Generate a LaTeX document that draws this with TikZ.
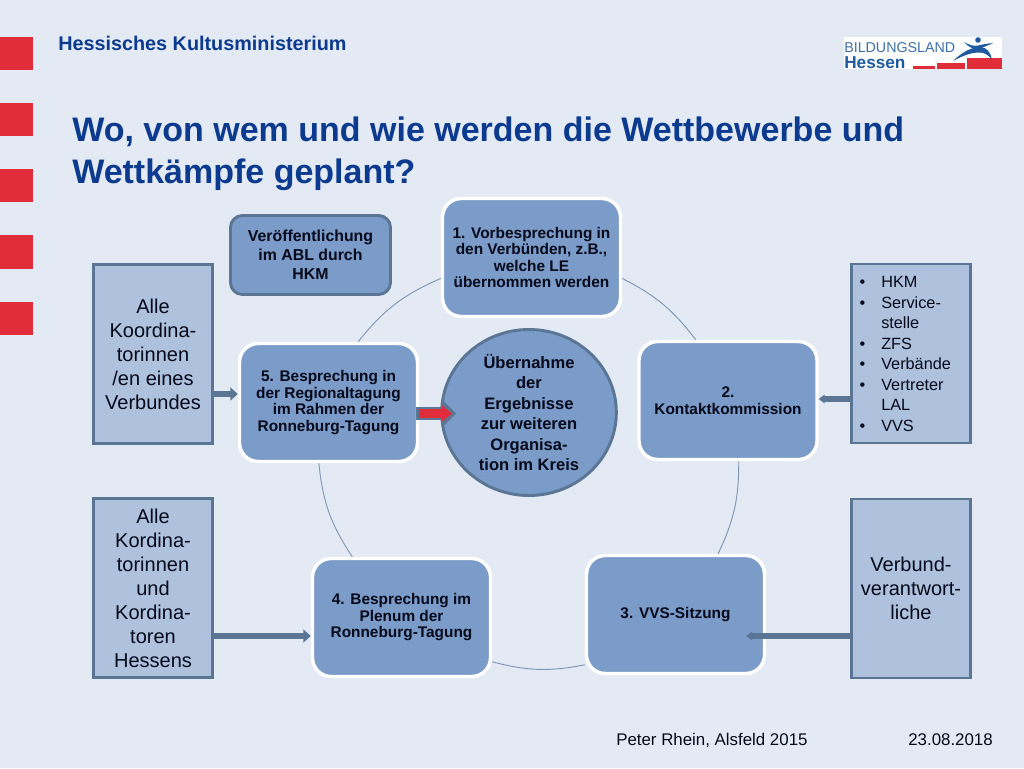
\documentclass[tikz,border=0pt]{standalone}
\usepackage{fontspec}
\setmainfont{Liberation Sans}
\usetikzlibrary{arrows.meta,shapes.geometric}
\definecolor{bgc}{HTML}{E4EAF3}
\definecolor{redc}{HTML}{E12D39}
\definecolor{titlec}{HTML}{0B3A8E}
\definecolor{boxc}{HTML}{7B9BC8}
\definecolor{sidec}{HTML}{AEC2DD}
\definecolor{edgec}{HTML}{5B7595}
\definecolor{inkc}{HTML}{06091A}
\definecolor{ringc}{HTML}{7F97B5}
\definecolor{logoc}{HTML}{1F5AA0}
\definecolor{logot}{HTML}{3E6FA8}
\newcommand{\fs}[2]{\fontsize{#1}{#2}\selectfont}
\tikzset{
  redsq/.style={fill=redc,draw=none},
  stage/.style={draw=white,line width=2.6pt,fill=boxc,rounded corners=14pt,minimum width=133.5pt,minimum height=88.5pt,
     align=center,text=inkc,inner sep=0pt,font=\bfseries\fs{11.55}{12.35}},
  note/.style={draw=edgec,line width=2.2pt,fill=boxc,rounded corners=9pt,minimum width=120pt,minimum height=59.25pt,
     align=center,text=inkc,inner sep=0pt,font=\bfseries\fs{11.9}{14.4}},
  side/.style={draw=edgec,line width=2.2pt,fill=sidec,minimum width=89.25pt,minimum height=134.25pt,
     align=center,text=inkc,inner sep=0pt,font=\fs{15}{18}},
  hub/.style={ellipse,draw=edgec,line width=2.2pt,fill=boxc,minimum width=131pt,minimum height=124.5pt,
     align=center,text=inkc,inner sep=0pt,font=\bfseries\fs{12.4}{15.4}},
  push/.style={draw=edgec,line width=4.8pt,-{Triangle[length=5.5pt,width=9.5pt]}},
  pushsmall/.style={draw=edgec,line width=4.4pt,-{Triangle[length=4.5pt,width=6.5pt]}},
  ringarc/.style={draw=ringc,line width=0.7pt},
  plain/.style={inner sep=0pt,anchor=west},
}
\begin{document}
\begin{tikzpicture}[x=0.75pt,y=-0.75pt]
\useasboundingbox (0,0) rectangle (1024,768);
\fill[bgc] (0,0) rectangle (1024,768);
% red squares
\fill[redsq] (0,37) rectangle (33,70);
\fill[redsq] (0,103) rectangle (33,136);
\fill[redsq] (0,169) rectangle (33,202);
\fill[redsq] (0,235) rectangle (33,269);
\fill[redsq] (0,302) rectangle (33,335);
% header
\node[plain,text=titlec,font=\bfseries\fs{14.85}{18}] (head) at (58,43) {Hessisches Kultusministerium};
\node[plain,text=titlec,font=\bfseries\fs{25.5}{31.2},align=left,anchor=north west] (title) at (72,116.5)
  {Wo, von wem und wie werden die Wettbewerbe und\\Wettkämpfe geplant?};
% logo
\fill[white] (844,37) rectangle (1002,69);
\node[plain,text=logot,font=\fs{10.7}{12}] (logoa) at (844,48) {BILDUNGSLAND};
\node[plain,text=logoc,font=\bfseries\fs{12.9}{14}] (logob) at (844,63) {Hessen};
\fill[redc] (913,66) rectangle (935,69);
\fill[redc] (937,62.5) rectangle (965,69);
\fill[redc] (967,58) rectangle (1002,69);
\fill[logoc] (978,40) circle (2.8);
\fill[logoc] (953,61) .. controls (962,52) and (972,47) .. (980,47) .. controls (987,47) and (991,53) .. (992,60)
   .. controls (988,54) and (984,52.5) .. (979,52.5) .. controls (971,52.5) and (962,56) .. (953,61) -- cycle;
\fill[logoc] (964,42) .. controls (969,45) and (974,46.5) .. (978,45.5) .. controls (983,44.5) and (988,43) .. (993,43.5)
   .. controls (988,45) and (984,47) .. (980,48.5) .. controls (974,50) and (968,47) .. (964,42) -- cycle;
% stages
\node[stage] (s1) at (531.5,257.5) {1. Vorbesprechung in\\den Verbünden, z.B.,\\welche LE\\übernommen werden};
\node[stage] (s2) at (728,400.5) {2.\\Kontaktkommission};
\node[stage] (s3) at (675.5,614.5) {3. VVS-Sitzung};
\node[stage] (s4) at (401.5,617.5) {4. Besprechung im\\Plenum der\\Ronneburg-Tagung};
\node[stage] (s5) at (328.5,402.5) {5. Besprechung in\\der Regionaltagung\\im Rahmen der\\Ronneburg-Tagung};
\node[note] (abl) at (310.5,255) {Veröffentlichung\\im ABL durch\\HKM};
\node[hub] (hub) at (529,412.5) {Übernahme\\der\\Ergebnisse\\zur weiteren\\Organisa-\\tion im Kreis};
% cycle arcs
\draw[ringarc] (s5.64) to[bend left=14] (s1.193);
\draw[ringarc] (s1.-13) to[bend left=13] (s2.118);
\draw[ringarc] (s2.-80) to[bend left=13] (s3.55);
\draw[ringarc] (s3.209) to[bend left=13] (s4.-26);
\draw[ringarc] (s4.129) to[bend left=14] (s5.261);
% side boxes
\node[side] (l1) at (153,354) {Alle\\Koordina-\\torinnen\\/en eines\\Verbundes};
\node[side] (l2) at (153,588) {Alle\\Kordina-\\torinnen\\und\\Kordina-\\toren\\Hessens};
\node[side] (r1) at (911,353.5) {};
\node[plain,anchor=west,align=left,text=inkc,font=\fs{12.2}{15.4}] (r1t) at (881,354)
  {\llap{•\hspace{12pt}}HKM\\\llap{•\hspace{12pt}}Service-\\stelle\\\llap{•\hspace{12pt}}ZFS\\\llap{•\hspace{12pt}}Verbände\\\llap{•\hspace{12pt}}Vertreter\\LAL\\\llap{•\hspace{12pt}}VVS};
\node[side] (r2) at (911,588.5) {Verbund-\\verantwort-\\liche};
% arrows
\coordinate (ya) at (0,394);
\coordinate (yb) at (0,399);
\coordinate (yc) at (0,636);
\coordinate (yd) at (0,413.5);
\draw[push] (l1.east |- ya) -- (s5.west |- ya);
\draw[pushsmall] (r1.west |- yb) -- (s2.east |- yb);
\draw[push] (l2.east |- yc) -- (s4.west |- yc);
\draw[pushsmall,shorten >=-15pt] (r2.west |- yc) -- (s3.east |- yc);
\draw[draw=edgec,line width=10pt,shorten <=-2.5pt,shorten >=-12pt,-{Triangle[length=10.5pt,width=20pt]}] (s5.east |- yd) -- (hub.west |- yd);
\draw[draw=redc,line width=7pt,shorten <=-0.5pt,shorten >=-9pt,-{Triangle[length=8pt,width=12pt]}] (s5.east |- yd) -- (hub.west |- yd);
% footer
\node[plain,text=inkc,font=\fs{12.65}{15}] (foot) at (616,740) {Peter Rhein, Alsfeld 2015};
\node[plain,anchor=east,text=inkc,font=\fs{12.65}{15}] (date) at (993,740) {23.08.2018};
\end{tikzpicture}
\end{document}
